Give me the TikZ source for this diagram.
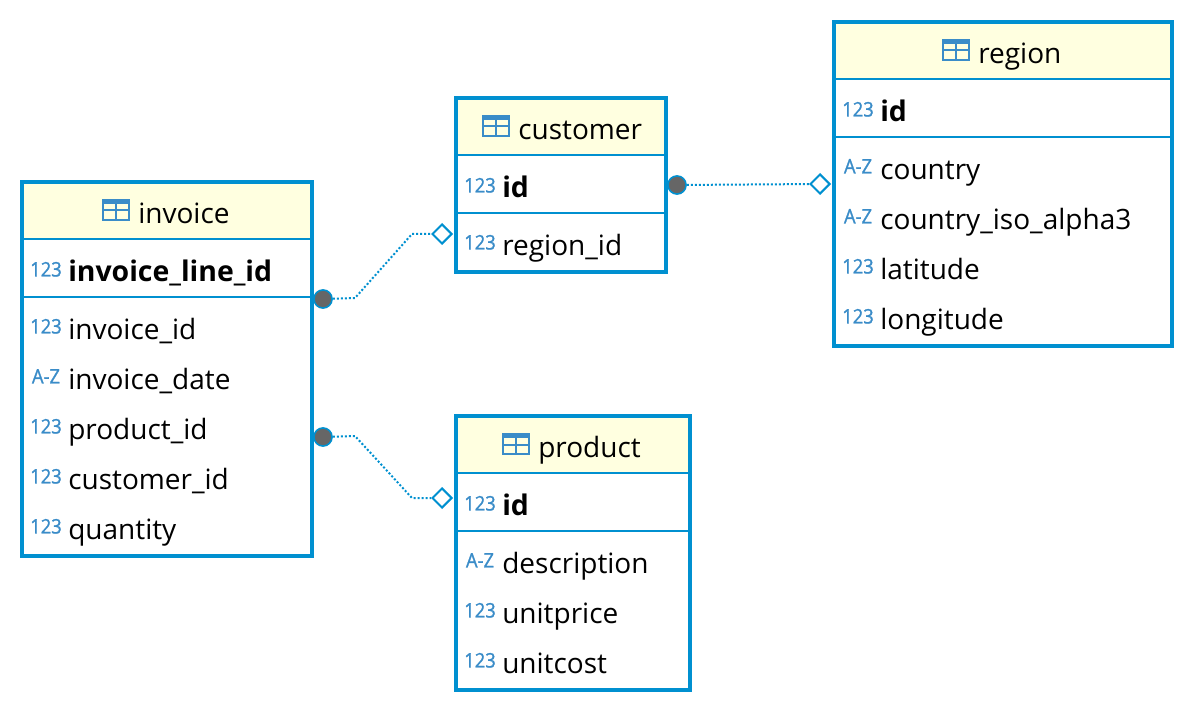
\documentclass[tikz,border=0pt]{standalone}
\usepackage{fontspec}
\usetikzlibrary{shapes.geometric}
\setmainfont{Open Sans}
\newfontfamily\iconfont[FakeBold=1.2,FakeStretch=0.92]{Open Sans}
\definecolor{framecol}{HTML}{0090D0}
\definecolor{iconcol}{HTML}{3A8CC8}
\definecolor{headcol}{HTML}{FFFFE0}
\definecolor{dotcol}{HTML}{666666}
\tikzset{
  tableframe/.style={draw=framecol,line width=3pt,inner sep=0pt,outer sep=0pt,anchor=north west},
  sepline/.style={draw=framecol,line width=1.5pt},
  titletext/.style={anchor=base west,inner sep=0pt,xshift=-0.75pt,yshift=-1.1pt,font=\fontsize{21}{24}\selectfont},
  rowtext/.style={anchor=base west,inner sep=0pt,xshift=-0.75pt,yshift=-1.1pt,font=\fontsize{21}{24}\selectfont},
  pktext/.style={rowtext,yshift=0.5pt,font=\fontsize{21.3}{24}\selectfont\bfseries},
  rowicon/.style={anchor=base,inner sep=0pt,yshift=0.4pt,text=iconcol,font=\iconfont\fontsize{15}{16}\selectfont},
  fkdot/.style={circle,draw=framecol,fill=dotcol,line width=1.2pt,minimum size=13.6pt,inner sep=0pt},
  pkdiamond/.style={diamond,draw=framecol,fill=white,line width=1.5pt,minimum size=15pt,inner sep=0pt},
  relline/.style={draw=framecol,line width=1.5pt,dash pattern=on 1.5pt off 1.5pt},
  tableicon/.pic={
    \fill[iconcol] (0,0) rectangle (28,5);
    \draw[iconcol,line width=1.5pt] (1,1) rectangle (27,21);
    \draw[iconcol,line width=1.5pt] (1,11.5) -- (27,11.5) (14,1) -- (14,21);
  }
}
\begin{document}
\begin{tikzpicture}[x=0.75pt,y=-0.75pt]
\useasboundingbox (0,0) rectangle (1194,712);

% ---------- invoice ----------
\fill[headcol] (22,182) rectangle (312,239);
\draw[sepline] (22,239) -- (312,239);
\draw[sepline] (22,297) -- (312,297);
\node[tableframe,minimum width=217.5pt,minimum height=280.5pt] (invoice) at (22,182) {};
\pic at (102,199) {tableicon};
\node[titletext] (invoiceTitle) at (139,222) {invoice};
\node[rowicon] (invoicePkIcon) at (46,277) {123};
\node[pktext] (invoicePk) at (69,281) {invoice\_line\_id};
\foreach \y/\ic/\txt [count=\i] in {338/123/invoice\_id,388/A-Z/invoice\_date,438/123/product\_id,488/123/customer\_id,538/123/quantity}{
  \node[rowicon] (invoiceIcon\i) at (46,\y-4) {\ic};
  \node[rowtext] (invoiceRow\i) at (69,\y) {\txt};
}

% ---------- customer ----------
\fill[headcol] (456,98) rectangle (666,155);
\draw[sepline] (456,155) -- (666,155);
\draw[sepline] (456,213) -- (666,213);
\node[tableframe,minimum width=157.5pt,minimum height=130.5pt] (customer) at (456,98) {};
\pic at (482,115) {tableicon};
\node[titletext] (customerTitle) at (519,138) {customer};
\node[rowicon] (customerPkIcon) at (480,193) {123};
\node[pktext] (customerPk) at (503,197) {id};
\node[rowicon] (customerIcon1) at (480,250) {123};
\node[rowtext] (customerRow1) at (503,254) {region\_id};

% ---------- region ----------
\fill[headcol] (834,22) rectangle (1172,79);
\draw[sepline] (834,79) -- (1172,79);
\draw[sepline] (834,137) -- (1172,137);
\node[tableframe,minimum width=253.5pt,minimum height=243pt] (region) at (834,22) {};
\pic at (942,39) {tableicon};
\node[titletext] (regionTitle) at (979,62) {region};
\node[rowicon] (regionPkIcon) at (858,117) {123};
\node[pktext] (regionPk) at (881,121) {id};
\foreach \y/\ic/\txt [count=\i] in {178/A-Z/country,228/A-Z/country\_iso\_alpha3,278/123/latitude,328/123/longitude}{
  \node[rowicon] (regionIcon\i) at (858,\y-4) {\ic};
  \node[rowtext] (regionRow\i) at (881,\y) {\txt};
}

% ---------- product ----------
\fill[headcol] (456,416) rectangle (690,473);
\draw[sepline] (456,473) -- (690,473);
\draw[sepline] (456,531) -- (690,531);
\node[tableframe,minimum width=175.5pt,minimum height=205.5pt] (product) at (456,416) {};
\pic at (502,433) {tableicon};
\node[titletext] (productTitle) at (539,456) {product};
\node[rowicon] (productPkIcon) at (480,511) {123};
\node[pktext] (productPk) at (503,515) {id};
\foreach \y/\ic/\txt [count=\i] in {572/A-Z/description,622/123/unitprice,672/123/unitcost}{
  \node[rowicon] (productIcon\i) at (480,\y-4) {\ic};
  \node[rowtext] (productRow\i) at (503,\y) {\txt};
}

% ---------- relations ----------
\coordinate (bendA1) at (355,298);
\coordinate (bendA2) at (412,234);
\coordinate (bendB1) at (355,436);
\coordinate (bendB2) at (412,498);
\node[fkdot] (invoiceCustomer) at (323,299) {};
\node[fkdot] (invoiceProduct) at (323,437) {};
\node[fkdot] (customerRegion) at (677,185) {};
\node[pkdiamond] (customerEnd) at (442,234) {};
\node[pkdiamond] (productEnd) at (442,498) {};
\node[pkdiamond] (regionEnd) at (820,184) {};
\draw[relline] (invoiceCustomer) -- (bendA1) -- (bendA2) -- (customerEnd);
\draw[relline] (invoiceProduct) -- (bendB1) -- (bendB2) -- (productEnd);
\draw[relline] (customerRegion) -- (regionEnd);
\end{tikzpicture}
\end{document}
